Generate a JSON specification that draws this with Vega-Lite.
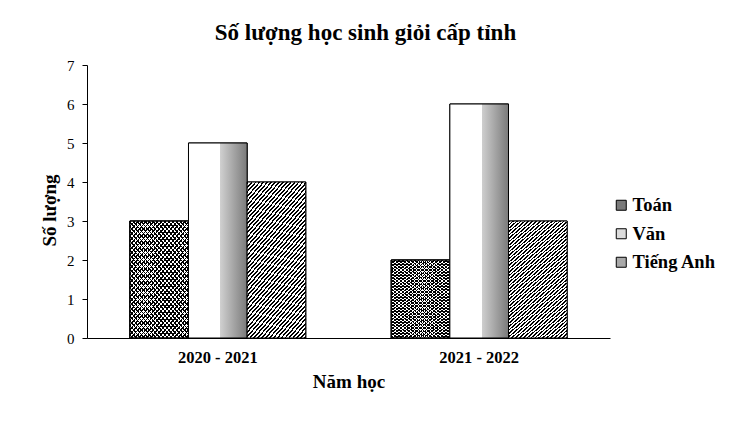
{
  "$schema": "https://vega.github.io/schema/vega-lite/v6.json",
  "autosize": {"type": "none"},
  "padding": {"left": 87, "top": 65, "right": 125, "bottom": 89},
  "width": 523,
  "height": 273,
  "background": "white",
  "title": {
    "text": "Số lượng học sinh giỏi cấp tỉnh",
    "font": "Liberation Serif",
    "fontSize": 23,
    "fontWeight": "bold",
    "color": "black",
    "anchor": "middle",
    "dx": 17,
    "offset": 13
  },
  "config": {
    "view": {"stroke": null},
    "font": "Liberation Serif"
  },
  "data": {
    "values": [
      {"nam": "2020 - 2021", "mon": "Toán", "soLuong": 3},
      {"nam": "2020 - 2021", "mon": "Văn", "soLuong": 5},
      {"nam": "2020 - 2021", "mon": "Tiếng Anh", "soLuong": 4},
      {"nam": "2021 - 2022", "mon": "Toán", "soLuong": 2},
      {"nam": "2021 - 2022", "mon": "Văn", "soLuong": 6},
      {"nam": "2021 - 2022", "mon": "Tiếng Anh", "soLuong": 3}
    ]
  },
  "encoding": {
    "x": {
      "field": "nam",
      "type": "nominal",
      "title": "Năm học",
      "scale": {"paddingInner": 0.327, "paddingOuter": 0.164},
      "axis": {
        "labelAngle": 0,
        "ticks": false,
        "domainColor": "black",
        "labelFont": "Liberation Serif",
        "labelFontSize": 16.5,
        "labelFontWeight": "bold",
        "labelColor": "black",
        "labelPadding": 11,
        "titleFont": "Liberation Serif",
        "titleFontSize": 19,
        "titleFontWeight": "bold",
        "titleColor": "black",
        "titlePadding": 7
      }
    },
    "xOffset": {
      "field": "mon",
      "type": "nominal",
      "scale": {"domain": ["Toán", "Văn", "Tiếng Anh"], "paddingInner": 0, "paddingOuter": 0}
    },
    "y": {
      "field": "soLuong",
      "type": "quantitative",
      "title": "Số lượng",
      "scale": {"domain": [0, 7]},
      "axis": {
        "values": [0, 1, 2, 3, 4, 5, 6, 7],
        "grid": false,
        "tickSize": 5,
        "tickColor": "black",
        "domainColor": "black",
        "labelFont": "Liberation Serif",
        "labelFontSize": 15,
        "labelColor": "black",
        "labelPadding": 8,
        "titleFont": "Liberation Serif",
        "titleFontSize": 19,
        "titleFontWeight": "bold",
        "titleColor": "black",
        "titlePadding": 7,
        "titleY": 145
      }
    }
  },
  "layer": [
    {
      "mark": {"type": "bar", "stroke": "black", "strokeWidth": 1},
      "encoding": {
        "color": {
          "field": "mon",
          "type": "nominal",
          "scale": {"domain": ["Toán", "Văn", "Tiếng Anh"], "range": ["#7a7a7a", "#dcdcdc", "#a9a9a9"]},
          "legend": {
            "title": null,
            "orient": "none",
            "legendX": 525,
            "legendY": 131,
            "symbolType": "square",
            "symbolSize": 100,
            "symbolStrokeWidth": 1,
            "symbolOpacity": 1,
            "labelFont": "Liberation Serif",
            "labelFontSize": 18.5,
            "labelFontWeight": "bold",
            "labelColor": "black",
            "labelOffset": 2,
            "rowPadding": 9.5
          }
        }
      }
    },
    {
      "transform": [{"filter": "datum.mon === 'Toán'"}],
      "mark": {
        "type": "bar",
        "stroke": "black",
        "strokeWidth": 1,
        "fill": {"gradient": "linear", "x1": 0, "y1": 0, "x2": 0.71, "y2": 1.18, "stops": [
          {"offset":0,"color":"#000"},{"offset":0.009,"color":"#000"},{"offset":0.009,"color":"#fff"},{"offset":0.025,"color":"#fff"},
          {"offset":0.025,"color":"#000"},{"offset":0.034,"color":"#000"},{"offset":0.034,"color":"#fff"},{"offset":0.05,"color":"#fff"},
          {"offset":0.05,"color":"#000"},{"offset":0.059,"color":"#000"},{"offset":0.059,"color":"#fff"},{"offset":0.075,"color":"#fff"},
          {"offset":0.075,"color":"#000"},{"offset":0.084,"color":"#000"},{"offset":0.084,"color":"#fff"},{"offset":0.1,"color":"#fff"},
          {"offset":0.1,"color":"#000"},{"offset":0.109,"color":"#000"},{"offset":0.109,"color":"#fff"},{"offset":0.125,"color":"#fff"},
          {"offset":0.125,"color":"#000"},{"offset":0.134,"color":"#000"},{"offset":0.134,"color":"#fff"},{"offset":0.15,"color":"#fff"},
          {"offset":0.15,"color":"#000"},{"offset":0.159,"color":"#000"},{"offset":0.159,"color":"#fff"},{"offset":0.175,"color":"#fff"},
          {"offset":0.175,"color":"#000"},{"offset":0.184,"color":"#000"},{"offset":0.184,"color":"#fff"},{"offset":0.2,"color":"#fff"},
          {"offset":0.2,"color":"#000"},{"offset":0.209,"color":"#000"},{"offset":0.209,"color":"#fff"},{"offset":0.225,"color":"#fff"},
          {"offset":0.225,"color":"#000"},{"offset":0.234,"color":"#000"},{"offset":0.234,"color":"#fff"},{"offset":0.25,"color":"#fff"},
          {"offset":0.25,"color":"#000"},{"offset":0.259,"color":"#000"},{"offset":0.259,"color":"#fff"},{"offset":0.275,"color":"#fff"},
          {"offset":0.275,"color":"#000"},{"offset":0.284,"color":"#000"},{"offset":0.284,"color":"#fff"},{"offset":0.3,"color":"#fff"},
          {"offset":0.3,"color":"#000"},{"offset":0.309,"color":"#000"},{"offset":0.309,"color":"#fff"},{"offset":0.325,"color":"#fff"},
          {"offset":0.325,"color":"#000"},{"offset":0.334,"color":"#000"},{"offset":0.334,"color":"#fff"},{"offset":0.35,"color":"#fff"},
          {"offset":0.35,"color":"#000"},{"offset":0.359,"color":"#000"},{"offset":0.359,"color":"#fff"},{"offset":0.375,"color":"#fff"},
          {"offset":0.375,"color":"#000"},{"offset":0.384,"color":"#000"},{"offset":0.384,"color":"#fff"},{"offset":0.4,"color":"#fff"},
          {"offset":0.4,"color":"#000"},{"offset":0.409,"color":"#000"},{"offset":0.409,"color":"#fff"},{"offset":0.425,"color":"#fff"},
          {"offset":0.425,"color":"#000"},{"offset":0.434,"color":"#000"},{"offset":0.434,"color":"#fff"},{"offset":0.45,"color":"#fff"},
          {"offset":0.45,"color":"#000"},{"offset":0.459,"color":"#000"},{"offset":0.459,"color":"#fff"},{"offset":0.475,"color":"#fff"},
          {"offset":0.475,"color":"#000"},{"offset":0.484,"color":"#000"},{"offset":0.484,"color":"#fff"},{"offset":0.5,"color":"#fff"},
          {"offset":0.5,"color":"#000"},{"offset":0.509,"color":"#000"},{"offset":0.509,"color":"#fff"},{"offset":0.525,"color":"#fff"},
          {"offset":0.525,"color":"#000"},{"offset":0.534,"color":"#000"},{"offset":0.534,"color":"#fff"},{"offset":0.55,"color":"#fff"},
          {"offset":0.55,"color":"#000"},{"offset":0.559,"color":"#000"},{"offset":0.559,"color":"#fff"},{"offset":0.575,"color":"#fff"},
          {"offset":0.575,"color":"#000"},{"offset":0.584,"color":"#000"},{"offset":0.584,"color":"#fff"},{"offset":0.6,"color":"#fff"},
          {"offset":0.6,"color":"#000"},{"offset":0.609,"color":"#000"},{"offset":0.609,"color":"#fff"},{"offset":0.625,"color":"#fff"},
          {"offset":0.625,"color":"#000"},{"offset":0.634,"color":"#000"},{"offset":0.634,"color":"#fff"},{"offset":0.65,"color":"#fff"},
          {"offset":0.65,"color":"#000"},{"offset":0.659,"color":"#000"},{"offset":0.659,"color":"#fff"},{"offset":0.675,"color":"#fff"},
          {"offset":0.675,"color":"#000"},{"offset":0.684,"color":"#000"},{"offset":0.684,"color":"#fff"},{"offset":0.7,"color":"#fff"},
          {"offset":0.7,"color":"#000"},{"offset":0.709,"color":"#000"},{"offset":0.709,"color":"#fff"},{"offset":0.725,"color":"#fff"},
          {"offset":0.725,"color":"#000"},{"offset":0.734,"color":"#000"},{"offset":0.734,"color":"#fff"},{"offset":0.75,"color":"#fff"},
          {"offset":0.75,"color":"#000"},{"offset":0.759,"color":"#000"},{"offset":0.759,"color":"#fff"},{"offset":0.775,"color":"#fff"},
          {"offset":0.775,"color":"#000"},{"offset":0.784,"color":"#000"},{"offset":0.784,"color":"#fff"},{"offset":0.8,"color":"#fff"},
          {"offset":0.8,"color":"#000"},{"offset":0.809,"color":"#000"},{"offset":0.809,"color":"#fff"},{"offset":0.825,"color":"#fff"},
          {"offset":0.825,"color":"#000"},{"offset":0.834,"color":"#000"},{"offset":0.834,"color":"#fff"},{"offset":0.85,"color":"#fff"},
          {"offset":0.85,"color":"#000"},{"offset":0.859,"color":"#000"},{"offset":0.859,"color":"#fff"},{"offset":0.875,"color":"#fff"},
          {"offset":0.875,"color":"#000"},{"offset":0.884,"color":"#000"},{"offset":0.884,"color":"#fff"},{"offset":0.9,"color":"#fff"},
          {"offset":0.9,"color":"#000"},{"offset":0.909,"color":"#000"},{"offset":0.909,"color":"#fff"},{"offset":0.925,"color":"#fff"},
          {"offset":0.925,"color":"#000"},{"offset":0.934,"color":"#000"},{"offset":0.934,"color":"#fff"},{"offset":0.95,"color":"#fff"},
          {"offset":0.95,"color":"#000"},{"offset":0.959,"color":"#000"},{"offset":0.959,"color":"#fff"},{"offset":0.975,"color":"#fff"},
          {"offset":0.975,"color":"#000"},{"offset":0.984,"color":"#000"},{"offset":0.984,"color":"#fff"},{"offset":1,"color":"#fff"}
        ]}
      }
    },
    {
      "transform": [{"filter": "datum.mon === 'Toán'"}],
      "mark": {
        "type": "bar",
        "stroke": "black",
        "strokeWidth": 1,
        "fill": {"gradient": "linear", "x1": 1, "y1": 0, "x2": 0.29, "y2": 1.18, "stops": [
          {"offset":0,"color":"#000"},{"offset":0.009,"color":"#000"},{"offset":0.009,"color":"transparent"},{"offset":0.025,"color":"transparent"},
          {"offset":0.025,"color":"#000"},{"offset":0.034,"color":"#000"},{"offset":0.034,"color":"transparent"},{"offset":0.05,"color":"transparent"},
          {"offset":0.05,"color":"#000"},{"offset":0.059,"color":"#000"},{"offset":0.059,"color":"transparent"},{"offset":0.075,"color":"transparent"},
          {"offset":0.075,"color":"#000"},{"offset":0.084,"color":"#000"},{"offset":0.084,"color":"transparent"},{"offset":0.1,"color":"transparent"},
          {"offset":0.1,"color":"#000"},{"offset":0.109,"color":"#000"},{"offset":0.109,"color":"transparent"},{"offset":0.125,"color":"transparent"},
          {"offset":0.125,"color":"#000"},{"offset":0.134,"color":"#000"},{"offset":0.134,"color":"transparent"},{"offset":0.15,"color":"transparent"},
          {"offset":0.15,"color":"#000"},{"offset":0.159,"color":"#000"},{"offset":0.159,"color":"transparent"},{"offset":0.175,"color":"transparent"},
          {"offset":0.175,"color":"#000"},{"offset":0.184,"color":"#000"},{"offset":0.184,"color":"transparent"},{"offset":0.2,"color":"transparent"},
          {"offset":0.2,"color":"#000"},{"offset":0.209,"color":"#000"},{"offset":0.209,"color":"transparent"},{"offset":0.225,"color":"transparent"},
          {"offset":0.225,"color":"#000"},{"offset":0.234,"color":"#000"},{"offset":0.234,"color":"transparent"},{"offset":0.25,"color":"transparent"},
          {"offset":0.25,"color":"#000"},{"offset":0.259,"color":"#000"},{"offset":0.259,"color":"transparent"},{"offset":0.275,"color":"transparent"},
          {"offset":0.275,"color":"#000"},{"offset":0.284,"color":"#000"},{"offset":0.284,"color":"transparent"},{"offset":0.3,"color":"transparent"},
          {"offset":0.3,"color":"#000"},{"offset":0.309,"color":"#000"},{"offset":0.309,"color":"transparent"},{"offset":0.325,"color":"transparent"},
          {"offset":0.325,"color":"#000"},{"offset":0.334,"color":"#000"},{"offset":0.334,"color":"transparent"},{"offset":0.35,"color":"transparent"},
          {"offset":0.35,"color":"#000"},{"offset":0.359,"color":"#000"},{"offset":0.359,"color":"transparent"},{"offset":0.375,"color":"transparent"},
          {"offset":0.375,"color":"#000"},{"offset":0.384,"color":"#000"},{"offset":0.384,"color":"transparent"},{"offset":0.4,"color":"transparent"},
          {"offset":0.4,"color":"#000"},{"offset":0.409,"color":"#000"},{"offset":0.409,"color":"transparent"},{"offset":0.425,"color":"transparent"},
          {"offset":0.425,"color":"#000"},{"offset":0.434,"color":"#000"},{"offset":0.434,"color":"transparent"},{"offset":0.45,"color":"transparent"},
          {"offset":0.45,"color":"#000"},{"offset":0.459,"color":"#000"},{"offset":0.459,"color":"transparent"},{"offset":0.475,"color":"transparent"},
          {"offset":0.475,"color":"#000"},{"offset":0.484,"color":"#000"},{"offset":0.484,"color":"transparent"},{"offset":0.5,"color":"transparent"},
          {"offset":0.5,"color":"#000"},{"offset":0.509,"color":"#000"},{"offset":0.509,"color":"transparent"},{"offset":0.525,"color":"transparent"},
          {"offset":0.525,"color":"#000"},{"offset":0.534,"color":"#000"},{"offset":0.534,"color":"transparent"},{"offset":0.55,"color":"transparent"},
          {"offset":0.55,"color":"#000"},{"offset":0.559,"color":"#000"},{"offset":0.559,"color":"transparent"},{"offset":0.575,"color":"transparent"},
          {"offset":0.575,"color":"#000"},{"offset":0.584,"color":"#000"},{"offset":0.584,"color":"transparent"},{"offset":0.6,"color":"transparent"},
          {"offset":0.6,"color":"#000"},{"offset":0.609,"color":"#000"},{"offset":0.609,"color":"transparent"},{"offset":0.625,"color":"transparent"},
          {"offset":0.625,"color":"#000"},{"offset":0.634,"color":"#000"},{"offset":0.634,"color":"transparent"},{"offset":0.65,"color":"transparent"},
          {"offset":0.65,"color":"#000"},{"offset":0.659,"color":"#000"},{"offset":0.659,"color":"transparent"},{"offset":0.675,"color":"transparent"},
          {"offset":0.675,"color":"#000"},{"offset":0.684,"color":"#000"},{"offset":0.684,"color":"transparent"},{"offset":0.7,"color":"transparent"},
          {"offset":0.7,"color":"#000"},{"offset":0.709,"color":"#000"},{"offset":0.709,"color":"transparent"},{"offset":0.725,"color":"transparent"},
          {"offset":0.725,"color":"#000"},{"offset":0.734,"color":"#000"},{"offset":0.734,"color":"transparent"},{"offset":0.75,"color":"transparent"},
          {"offset":0.75,"color":"#000"},{"offset":0.759,"color":"#000"},{"offset":0.759,"color":"transparent"},{"offset":0.775,"color":"transparent"},
          {"offset":0.775,"color":"#000"},{"offset":0.784,"color":"#000"},{"offset":0.784,"color":"transparent"},{"offset":0.8,"color":"transparent"},
          {"offset":0.8,"color":"#000"},{"offset":0.809,"color":"#000"},{"offset":0.809,"color":"transparent"},{"offset":0.825,"color":"transparent"},
          {"offset":0.825,"color":"#000"},{"offset":0.834,"color":"#000"},{"offset":0.834,"color":"transparent"},{"offset":0.85,"color":"transparent"},
          {"offset":0.85,"color":"#000"},{"offset":0.859,"color":"#000"},{"offset":0.859,"color":"transparent"},{"offset":0.875,"color":"transparent"},
          {"offset":0.875,"color":"#000"},{"offset":0.884,"color":"#000"},{"offset":0.884,"color":"transparent"},{"offset":0.9,"color":"transparent"},
          {"offset":0.9,"color":"#000"},{"offset":0.909,"color":"#000"},{"offset":0.909,"color":"transparent"},{"offset":0.925,"color":"transparent"},
          {"offset":0.925,"color":"#000"},{"offset":0.934,"color":"#000"},{"offset":0.934,"color":"transparent"},{"offset":0.95,"color":"transparent"},
          {"offset":0.95,"color":"#000"},{"offset":0.959,"color":"#000"},{"offset":0.959,"color":"transparent"},{"offset":0.975,"color":"transparent"},
          {"offset":0.975,"color":"#000"},{"offset":0.984,"color":"#000"},{"offset":0.984,"color":"transparent"},{"offset":1,"color":"transparent"}
        ]}
      }
    },
    {
      "transform": [{"filter": "datum.mon === 'Văn'"}],
      "mark": {
        "type": "bar",
        "stroke": "black",
        "strokeWidth": 1,
        "fill": {"gradient": "linear", "x1": 0, "y1": 0, "x2": 1, "y2": 0, "stops": [
          {"offset":0,"color":"#fff"},{"offset":0.545,"color":"#fff"},{"offset":0.545,"color":"#cfcfcf"},{"offset":1,"color":"#7a7a7a"}
        ]}
      }
    },
    {
      "transform": [{"filter": "datum.mon === 'Tiếng Anh'"}],
      "mark": {
        "type": "bar",
        "stroke": "black",
        "strokeWidth": 1,
        "fill": {"gradient": "linear", "x1": 0, "y1": 0, "x2": 0.53, "y2": 1.219, "stops": [
          {"offset":0,"color":"#000"},{"offset":0.009,"color":"#000"},{"offset":0.009,"color":"#fff"},{"offset":0.02,"color":"#fff"},
          {"offset":0.02,"color":"#000"},{"offset":0.029,"color":"#000"},{"offset":0.029,"color":"#fff"},{"offset":0.04,"color":"#fff"},
          {"offset":0.04,"color":"#000"},{"offset":0.049,"color":"#000"},{"offset":0.049,"color":"#fff"},{"offset":0.06,"color":"#fff"},
          {"offset":0.06,"color":"#000"},{"offset":0.069,"color":"#000"},{"offset":0.069,"color":"#fff"},{"offset":0.08,"color":"#fff"},
          {"offset":0.08,"color":"#000"},{"offset":0.089,"color":"#000"},{"offset":0.089,"color":"#fff"},{"offset":0.1,"color":"#fff"},
          {"offset":0.1,"color":"#000"},{"offset":0.109,"color":"#000"},{"offset":0.109,"color":"#fff"},{"offset":0.12,"color":"#fff"},
          {"offset":0.12,"color":"#000"},{"offset":0.129,"color":"#000"},{"offset":0.129,"color":"#fff"},{"offset":0.14,"color":"#fff"},
          {"offset":0.14,"color":"#000"},{"offset":0.149,"color":"#000"},{"offset":0.149,"color":"#fff"},{"offset":0.16,"color":"#fff"},
          {"offset":0.16,"color":"#000"},{"offset":0.169,"color":"#000"},{"offset":0.169,"color":"#fff"},{"offset":0.18,"color":"#fff"},
          {"offset":0.18,"color":"#000"},{"offset":0.189,"color":"#000"},{"offset":0.189,"color":"#fff"},{"offset":0.2,"color":"#fff"},
          {"offset":0.2,"color":"#000"},{"offset":0.209,"color":"#000"},{"offset":0.209,"color":"#fff"},{"offset":0.22,"color":"#fff"},
          {"offset":0.22,"color":"#000"},{"offset":0.229,"color":"#000"},{"offset":0.229,"color":"#fff"},{"offset":0.24,"color":"#fff"},
          {"offset":0.24,"color":"#000"},{"offset":0.249,"color":"#000"},{"offset":0.249,"color":"#fff"},{"offset":0.26,"color":"#fff"},
          {"offset":0.26,"color":"#000"},{"offset":0.269,"color":"#000"},{"offset":0.269,"color":"#fff"},{"offset":0.28,"color":"#fff"},
          {"offset":0.28,"color":"#000"},{"offset":0.289,"color":"#000"},{"offset":0.289,"color":"#fff"},{"offset":0.3,"color":"#fff"},
          {"offset":0.3,"color":"#000"},{"offset":0.309,"color":"#000"},{"offset":0.309,"color":"#fff"},{"offset":0.32,"color":"#fff"},
          {"offset":0.32,"color":"#000"},{"offset":0.329,"color":"#000"},{"offset":0.329,"color":"#fff"},{"offset":0.34,"color":"#fff"},
          {"offset":0.34,"color":"#000"},{"offset":0.349,"color":"#000"},{"offset":0.349,"color":"#fff"},{"offset":0.36,"color":"#fff"},
          {"offset":0.36,"color":"#000"},{"offset":0.369,"color":"#000"},{"offset":0.369,"color":"#fff"},{"offset":0.38,"color":"#fff"},
          {"offset":0.38,"color":"#000"},{"offset":0.389,"color":"#000"},{"offset":0.389,"color":"#fff"},{"offset":0.4,"color":"#fff"},
          {"offset":0.4,"color":"#000"},{"offset":0.409,"color":"#000"},{"offset":0.409,"color":"#fff"},{"offset":0.42,"color":"#fff"},
          {"offset":0.42,"color":"#000"},{"offset":0.429,"color":"#000"},{"offset":0.429,"color":"#fff"},{"offset":0.44,"color":"#fff"},
          {"offset":0.44,"color":"#000"},{"offset":0.449,"color":"#000"},{"offset":0.449,"color":"#fff"},{"offset":0.46,"color":"#fff"},
          {"offset":0.46,"color":"#000"},{"offset":0.469,"color":"#000"},{"offset":0.469,"color":"#fff"},{"offset":0.48,"color":"#fff"},
          {"offset":0.48,"color":"#000"},{"offset":0.489,"color":"#000"},{"offset":0.489,"color":"#fff"},{"offset":0.5,"color":"#fff"},
          {"offset":0.5,"color":"#000"},{"offset":0.509,"color":"#000"},{"offset":0.509,"color":"#fff"},{"offset":0.52,"color":"#fff"},
          {"offset":0.52,"color":"#000"},{"offset":0.529,"color":"#000"},{"offset":0.529,"color":"#fff"},{"offset":0.54,"color":"#fff"},
          {"offset":0.54,"color":"#000"},{"offset":0.549,"color":"#000"},{"offset":0.549,"color":"#fff"},{"offset":0.56,"color":"#fff"},
          {"offset":0.56,"color":"#000"},{"offset":0.569,"color":"#000"},{"offset":0.569,"color":"#fff"},{"offset":0.58,"color":"#fff"},
          {"offset":0.58,"color":"#000"},{"offset":0.589,"color":"#000"},{"offset":0.589,"color":"#fff"},{"offset":0.6,"color":"#fff"},
          {"offset":0.6,"color":"#000"},{"offset":0.609,"color":"#000"},{"offset":0.609,"color":"#fff"},{"offset":0.62,"color":"#fff"},
          {"offset":0.62,"color":"#000"},{"offset":0.629,"color":"#000"},{"offset":0.629,"color":"#fff"},{"offset":0.64,"color":"#fff"},
          {"offset":0.64,"color":"#000"},{"offset":0.649,"color":"#000"},{"offset":0.649,"color":"#fff"},{"offset":0.66,"color":"#fff"},
          {"offset":0.66,"color":"#000"},{"offset":0.669,"color":"#000"},{"offset":0.669,"color":"#fff"},{"offset":0.68,"color":"#fff"},
          {"offset":0.68,"color":"#000"},{"offset":0.689,"color":"#000"},{"offset":0.689,"color":"#fff"},{"offset":0.7,"color":"#fff"},
          {"offset":0.7,"color":"#000"},{"offset":0.709,"color":"#000"},{"offset":0.709,"color":"#fff"},{"offset":0.72,"color":"#fff"},
          {"offset":0.72,"color":"#000"},{"offset":0.729,"color":"#000"},{"offset":0.729,"color":"#fff"},{"offset":0.74,"color":"#fff"},
          {"offset":0.74,"color":"#000"},{"offset":0.749,"color":"#000"},{"offset":0.749,"color":"#fff"},{"offset":0.76,"color":"#fff"},
          {"offset":0.76,"color":"#000"},{"offset":0.769,"color":"#000"},{"offset":0.769,"color":"#fff"},{"offset":0.78,"color":"#fff"},
          {"offset":0.78,"color":"#000"},{"offset":0.789,"color":"#000"},{"offset":0.789,"color":"#fff"},{"offset":0.8,"color":"#fff"},
          {"offset":0.8,"color":"#000"},{"offset":0.809,"color":"#000"},{"offset":0.809,"color":"#fff"},{"offset":0.82,"color":"#fff"},
          {"offset":0.82,"color":"#000"},{"offset":0.829,"color":"#000"},{"offset":0.829,"color":"#fff"},{"offset":0.84,"color":"#fff"},
          {"offset":0.84,"color":"#000"},{"offset":0.849,"color":"#000"},{"offset":0.849,"color":"#fff"},{"offset":0.86,"color":"#fff"},
          {"offset":0.86,"color":"#000"},{"offset":0.869,"color":"#000"},{"offset":0.869,"color":"#fff"},{"offset":0.88,"color":"#fff"},
          {"offset":0.88,"color":"#000"},{"offset":0.889,"color":"#000"},{"offset":0.889,"color":"#fff"},{"offset":0.9,"color":"#fff"},
          {"offset":0.9,"color":"#000"},{"offset":0.909,"color":"#000"},{"offset":0.909,"color":"#fff"},{"offset":0.92,"color":"#fff"},
          {"offset":0.92,"color":"#000"},{"offset":0.929,"color":"#000"},{"offset":0.929,"color":"#fff"},{"offset":0.94,"color":"#fff"},
          {"offset":0.94,"color":"#000"},{"offset":0.949,"color":"#000"},{"offset":0.949,"color":"#fff"},{"offset":0.96,"color":"#fff"},
          {"offset":0.96,"color":"#000"},{"offset":0.969,"color":"#000"},{"offset":0.969,"color":"#fff"},{"offset":0.98,"color":"#fff"},
          {"offset":0.98,"color":"#000"},{"offset":0.989,"color":"#000"},{"offset":0.989,"color":"#fff"},{"offset":1,"color":"#fff"}
        ]}
      }
    }
  ]
}
